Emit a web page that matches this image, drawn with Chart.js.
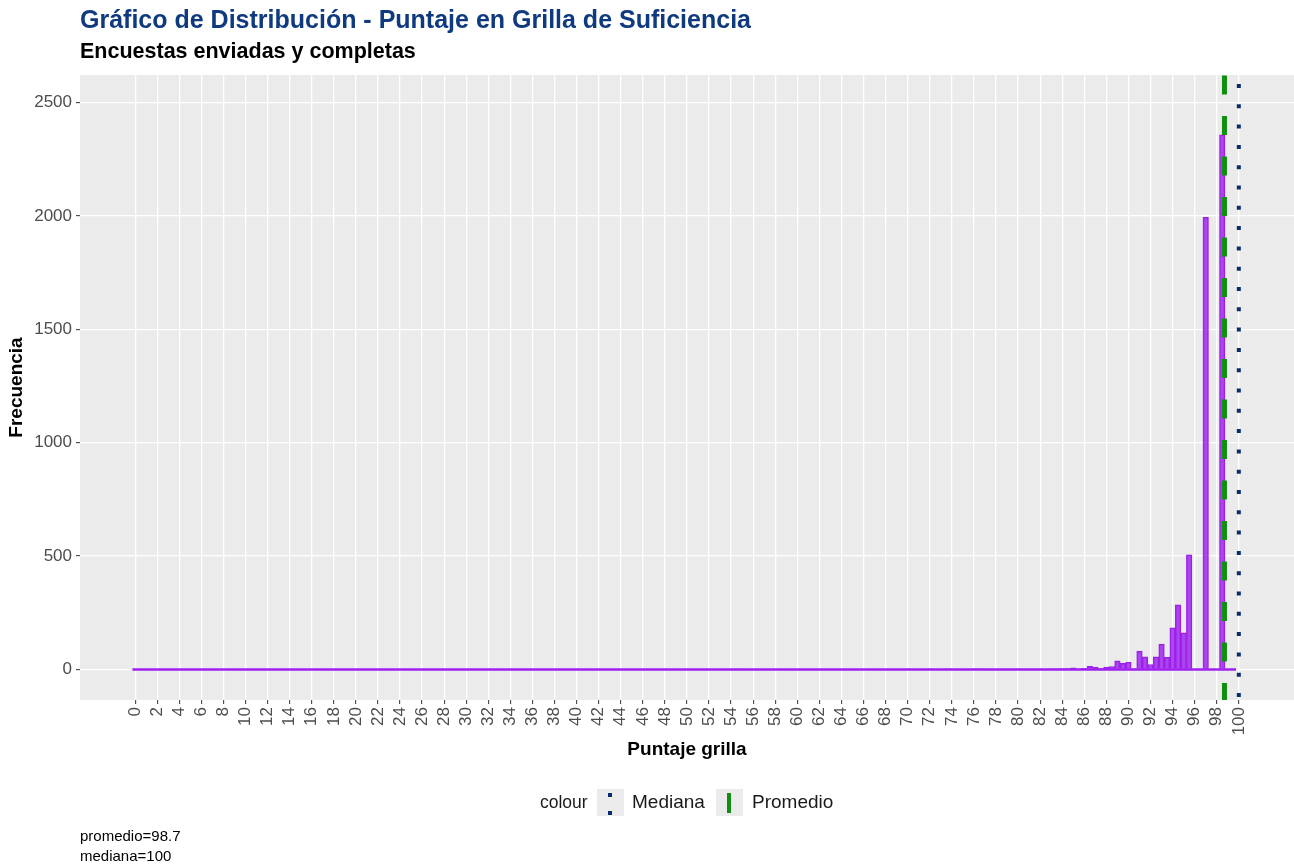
<!DOCTYPE html>
<html>
<head>
<meta charset="utf-8">
<script src="https://cdn.jsdelivr.net/npm/chart.js@4.4.1/dist/chart.umd.min.js"></script>
<style>
  html, body { margin: 0; padding: 0; background: #fff; }
  body { width: 1294px; height: 865px; position: relative; overflow: hidden;
         font-family: "Liberation Sans", Arial, sans-serif; }
  #grafico { position: absolute; left: 0; top: 0; }
  .txt { position: absolute; white-space: nowrap; }
  #titulo { left: 80px; top: 5px; font-size: 25px; font-weight: bold; color: #0f3a80; }
  #subtitulo { left: 80px; top: 39px; font-size: 21.5px; font-weight: bold; color: #000; }
  .ley { position: absolute; white-space: nowrap; line-height: 20px; color: #1a1a1a; }
  .clave { position: absolute; top: 789px; width: 27px; height: 27px; background: #ebebeb; }
  .punto { position: absolute; left: 11px; width: 4px; height: 4px; background: #082c6c; }
  .raya { position: absolute; left: 11px; top: 4px; width: 4px; height: 20px; background: #0f8f0f; }
  #nota { left: 80px; top: 826px; font-size: 15px; line-height: 20px; color: #000; }
</style>
</head>
<body>
<canvas id="grafico" width="1294" height="865"></canvas>
<div class="txt" id="titulo">Gráfico de Distribución - Puntaje en Grilla de Suficiencia</div>
<div class="txt" id="subtitulo">Encuestas enviadas y completas</div>
<div class="ley" style="left:540px; top:792px; font-size:17.5px">colour</div>
<div class="clave" style="left:597px"><div class="punto" style="top:4px"></div><div class="punto" style="top:22px"></div></div>
<div class="ley" style="left:632px; top:792px; font-size:19px">Mediana</div>
<div class="clave" style="left:716px"><div class="raya"></div></div>
<div class="ley" style="left:752px; top:792px; font-size:19px">Promedio</div>
<div class="txt" id="nota">promedio=98.7<br>mediana=100</div>
<script>
// histogram bins (centre of each 0.5-wide bin) and their counts; all other bins are 0
var binCentros = [54.5, 70, 72, 73.5, 74, 76, 76.5, 77, 79, 80,
                  80.5, 82, 83, 83.5, 84, 84.5, 85, 85.5, 86, 86.5,
                  87, 87.5, 88, 88.5, 89, 89.5, 90, 90.5, 91, 91.5,
                  92, 92.5, 93, 93.5, 94, 94.5, 95, 95.5, 96, 96.5,
                  97, 97.5, 98, 98.5];
var frecuencia = [2, 1, 1, 2, 1, 1, 2, 1, 1, 2,
                  1, 2, 2, 3, 3, 4, 7, 2, 5, 14,
                  11, 4, 11, 13, 38, 27, 32, 2, 81, 56,
                  22, 56, 112, 54, 184, 285, 162, 506, 0, 0,
                  1993, 0, 0, 2357];
var rangoBins = [-0.25, 99.75];   // outer edges of the histogram
var promedio = 98.7;
var mediana = 100;
var xTicks = [0, 2, 4, 6, 8, 10, 12, 14, 16, 18, 20, 22, 24, 26, 28, 30, 32, 34, 36, 38, 40,
              42, 44, 46, 48, 50, 52, 54, 56, 58, 60, 62, 64, 66, 68, 70, 72, 74, 76, 78, 80,
              82, 84, 86, 88, 90, 92, 94, 96, 98, 100];
var yTicks = [0, 500, 1000, 1500, 2000, 2500];

var X_MIN = -5, X_MAX = 105, Y_MIN = -134.5, Y_MAX = 2621;

// grey panel behind the grid
var fondoPanel = {
  id: 'fondoPanel',
  beforeDraw: function (chart) {
    var a = chart.chartArea, ctx = chart.ctx;
    ctx.save();
    ctx.fillStyle = '#ebebeb';
    ctx.fillRect(a.left, a.top, a.right - a.left, a.bottom - a.top);
    ctx.restore();
  }
};

var barras = binCentros.map(function (x, i) { return { x: x, y: frecuencia[i] }; });

var config = {
  type: 'bar',
  data: {
    datasets: [
      {
        type: 'line', label: 'Mediana',
        data: [{ x: mediana, y: Y_MIN }, { x: mediana, y: Y_MAX }],
        borderColor: '#082c6c', borderWidth: 4, borderDash: [4, 16.3], borderDashOffset: 17.3,
        borderCapStyle: 'butt', pointRadius: 0
      },
      {
        type: 'line', label: 'Promedio',
        data: [{ x: promedio, y: Y_MIN }, { x: promedio, y: Y_MAX }],
        borderColor: '#0f8f0f', borderWidth: 5, borderDash: [19, 21.5], borderDashOffset: 2,
        borderCapStyle: 'butt', pointRadius: 0
      },
      {
        type: 'line', label: 'base',
        data: [{ x: rangoBins[0], y: 0 }, { x: rangoBins[1], y: 0 }],
        borderColor: '#a020f0', borderWidth: 2.5, pointRadius: 0
      },
      {
        label: 'Frecuencia',
        data: barras,
        backgroundColor: 'rgba(162, 40, 240, 0.85)',
        borderColor: '#9a1fe6',
        borderWidth: 1,
        barPercentage: 1,
        categoryPercentage: 1
      }
    ]
  },
  options: {
    responsive: false,
    animation: false,
    devicePixelRatio: 1,
    layout: { padding: { top: 75, right: 0, bottom: 103.6, left: 0 } },
    plugins: { legend: { display: false }, tooltip: { enabled: false } },
    scales: {
      x: {
        type: 'linear', min: X_MIN, max: X_MAX, offset: false,
        afterBuildTicks: function (s) { s.ticks = xTicks.map(function (v) { return { value: v }; }); },
        afterFit: function (s) { s.height = 61.4; },
        grid: { color: '#ffffff', lineWidth: 1.3, offset: false, tickColor: '#333333', tickLength: 4, tickWidth: 1 },
        border: { display: false },
        ticks: { autoSkip: false, maxRotation: 90, minRotation: 90, padding: 3,
                 color: '#4d4d4d', font: { family: 'Liberation Sans', size: 17 },
                 callback: function (v) { return String(v); } },
        title: { display: true, text: 'Puntaje grilla', color: '#000',
                 font: { family: 'Liberation Sans', size: 19, weight: 'bold' }, padding: 0 }
      },
      y: {
        type: 'linear', min: Y_MIN, max: Y_MAX,
        afterBuildTicks: function (s) { s.ticks = yTicks.map(function (v) { return { value: v }; }); },
        afterFit: function (s) { s.width = 80; },
        grid: { color: '#ffffff', lineWidth: 1.3, tickColor: '#333333', tickLength: 4, tickWidth: 1 },
        border: { display: false },
        ticks: { padding: 4, color: '#4d4d4d', font: { family: 'Liberation Sans', size: 17 },
                 callback: function (v) { return String(v); } },
        title: { display: true, text: 'Frecuencia', color: '#000',
                 font: { family: 'Liberation Sans', size: 19, weight: 'bold' }, padding: { top: 5.6, bottom: 0 } }
      }
    }
  },
  plugins: [fondoPanel]
};

var miGrafico = new Chart(document.getElementById('grafico'), config);
</script>
</body>
</html>
